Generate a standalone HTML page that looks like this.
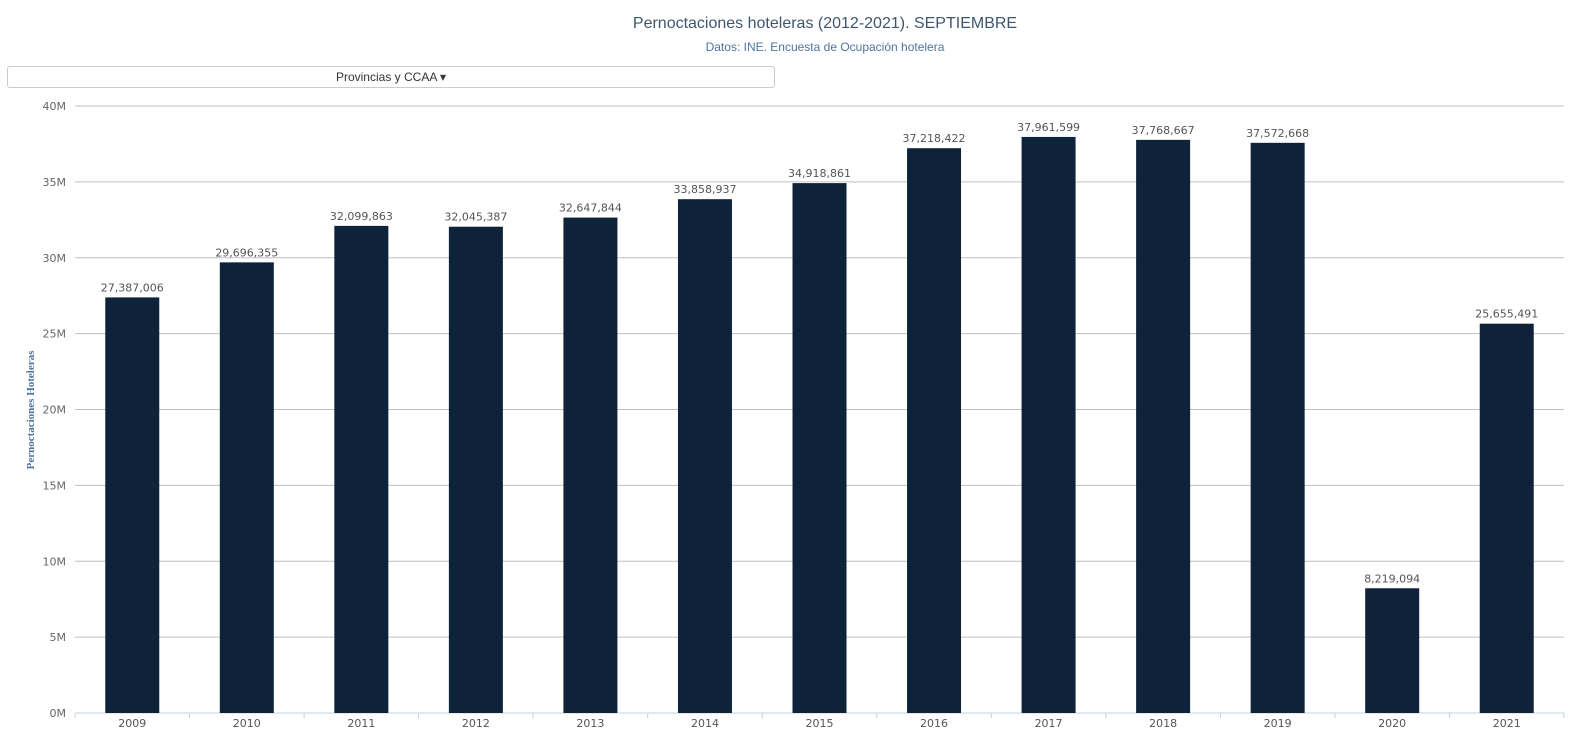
<!DOCTYPE html>
<html><head><meta charset="utf-8"><style>
body{margin:0;background:#fff;width:1594px;height:745px;overflow:hidden;font-family:"Liberation Sans",sans-serif}
#title{position:absolute;top:15px;left:0;width:1650px;text-align:center;font-size:16px;color:#3e576f}
#sub{position:absolute;top:40px;left:0;width:1650px;text-align:center;font-size:12px;color:#4d759e}
#dd{position:absolute;left:7px;top:66px;width:766px;height:20px;border:1px solid #ccc;border-radius:3px;text-align:center;font-size:12px;line-height:20px;color:#333;background:#fff}
svg{position:absolute;left:0;top:0}
</style></head><body>
<div id="title">Pernoctaciones hoteleras (2012-2021). SEPTIEMBRE</div>
<div id="sub">Datos: INE. Encuesta de Ocupación hotelera</div>
<div id="dd">Provincias y CCAA ▾</div>
<svg id="c" width="1594" height="745"></svg>
<script>
const categories=["2009","2010","2011","2012","2013","2014","2015","2016","2017","2018","2019","2020","2021"];
const values=[27387006,29696355,32099863,32045387,32647844,33858937,34918861,37218422,37961599,37768667,37572668,8219094,25655491];
const yTicks=[0,5,10,15,20,25,30,35,40];
const valueLabels=["27,387,006","29,696,355","32,099,863","32,045,387","32,647,844","33,858,937","34,918,861","37,218,422","37,961,599","37,768,667","37,572,668","8,219,094","25,655,491"];
const NS="http://www.w3.org/2000/svg",svg=document.getElementById('c');
const L=75,R=1564,T=106,B=713,yMax=40e6;
const step=(R-L)/categories.length,bw=54;
const y=v=>B-(v/yMax)*(B-T);
const x=i=>L+step*i+step/2;
function mk(t,a,txt){const e=document.createElementNS(NS,t);for(const k in a)e.setAttribute(k,a[k]);if(txt!=null)e.textContent=txt;svg.appendChild(e);return e;}
yTicks.forEach(t=>{
 const g=mk('line',{x1:L,x2:R,y1:y(t*1e6),y2:y(t*1e6),stroke:t?'#c0c0c0':'#c0d0e0','stroke-width':1});
 
 
 const l=mk('text',{x:L-9,y:y(t*1e6)+4,'text-anchor':'end','font-size':11,fill:'#666','font-family':'DejaVu Sans,sans-serif'},t+'M');
 
 
});
for(let i=0;i<=categories.length;i++){
 const tk=mk('line',{x1:L+step*i,x2:L+step*i,y1:B,y2:B+5,stroke:'#c0d0e0'});
 
 
}
categories.forEach((c,i)=>{
 const r=mk('rect',{x:x(i)-bw/2,y:y(values[i]),width:bw,height:B-y(values[i]),fill:'#0e233a'});
 
 
 const v=mk('text',{x:x(i),y:y(values[i])-6,'text-anchor':'middle','font-size':11,fill:'#555','font-family':'DejaVu Sans,sans-serif'},valueLabels[i]);
 
 
 const xl=mk('text',{x:x(i),y:B+14,'text-anchor':'middle','font-size':11,fill:'#555','font-family':'DejaVu Sans,sans-serif'},c);
 
 
});
const yt=mk('text',{x:0,y:0,transform:'translate(34,410) rotate(-90)','text-anchor':'middle','font-size':11,'font-weight':'bold',fill:'#4d759e','font-family':'Liberation Serif,serif'},'Pernoctaciones Hoteleras');


</script>
</body></html>
